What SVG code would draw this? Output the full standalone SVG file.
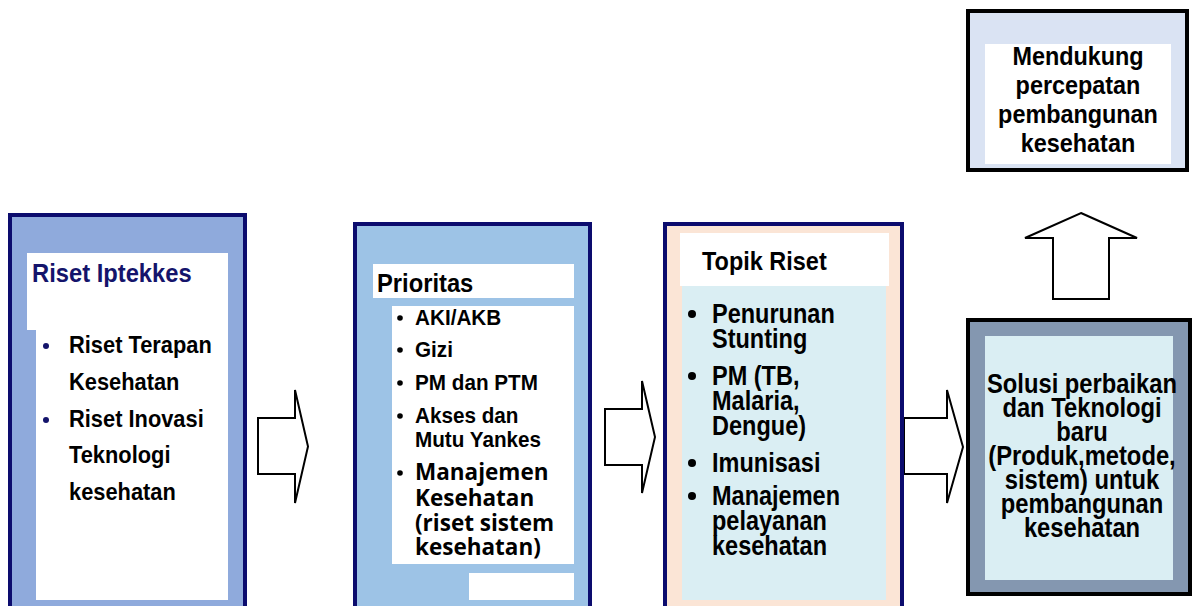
<svg xmlns="http://www.w3.org/2000/svg" width="1201" height="606" viewBox="0 0 1201 606">
<style>
.t{font-family:"Liberation Sans",Arial,sans-serif;font-weight:bold;fill:#000}
.c{font-family:"Open Sans","Liberation Sans",sans-serif;font-weight:bold;fill:#000}
.nav{stroke:#0c0c6e;stroke-width:4}
.blk{stroke:#000;stroke-width:4}
.arr{fill:#fff;stroke:#000;stroke-width:2;stroke-linejoin:miter}
</style>
<rect width="1201" height="606" fill="#fff"/>
<g id="connectors">
<polygon class="arr" points="258,418 295,418 295,390 308,446.5 295,503 295,474 258,474"/>
<polygon class="arr" points="605,409 642,409 642,381 655,437 642,493 642,465 605,465"/>
<polygon class="arr" points="904,418 947,418 947,390 963,447 947,503 947,474 904,474"/>
<polygon class="arr" points="1081,213 1137,238 1109,238 1109,299 1053,299 1053,238 1025,238"/>
</g>
<g id="riset-iptekkes">
<rect class="nav" x="10" y="215" width="235" height="400" fill="#8faadc"/>
<rect x="27" y="253" width="201" height="77" fill="#fff"/>
<rect x="36" y="330" width="192" height="270" fill="#fff"/>
<g transform="translate(32,0) scale(0.95,1)"><text class="t" x="0" y="282" font-size="25" style="fill:#14146b">Riset Iptekkes</text></g>
<circle cx="46" cy="346" r="3" fill="#14146b"/>
<circle cx="46" cy="420" r="3" fill="#14146b"/>
<g transform="translate(69,0) scale(0.95,1)" font-size="23">
<text class="t" x="0" y="353">Riset Terapan</text>
<text class="t" x="0" y="390">Kesehatan</text>
<text class="t" x="0" y="427">Riset Inovasi</text>
<text class="t" x="0" y="463">Teknologi</text>
<text class="t" x="0" y="500">kesehatan</text>
</g>
</g>
<g id="prioritas">
<rect class="nav" x="355" y="224" width="235" height="400" fill="#9dc3e6"/>
<rect x="373" y="264" width="201" height="34" fill="#fff"/>
<rect x="392" y="306" width="182" height="258" fill="#fff"/>
<rect x="469" y="573" width="105" height="27" fill="#fff"/>
<g transform="translate(377,0) scale(0.95,1)"><text class="t" x="0" y="292" font-size="25">Prioritas</text></g>
<g fill="#000">
<circle cx="400" cy="318" r="2.8"/>
<circle cx="400" cy="350" r="2.8"/>
<circle cx="400" cy="383" r="2.8"/>
<circle cx="400" cy="416" r="2.8"/>
<circle cx="400" cy="473" r="2.8"/>
</g>
<g transform="translate(415,0) scale(0.92,1)" font-size="22.5">
<text class="t" x="0" y="325">AKI/AKB</text>
<text class="t" x="0" y="357">Gizi</text>
<text class="t" x="0" y="390">PM dan PTM</text>
<text class="t" x="0" y="423">Akses dan</text>
<text class="t" x="0" y="447">Mutu Yankes</text>
</g>
<g font-size="22.5">
<text class="c" x="415" y="480">Manajemen</text>
<text class="c" x="415" y="506">Kesehatan</text>
<text class="c" x="415" y="531">(riset sistem</text>
<text class="c" x="415" y="555">kesehatan)</text>
</g>
</g>
<g id="topik-riset">
<rect class="nav" x="665" y="224" width="237" height="400" fill="#fbe5d6"/>
<rect x="680" y="233" width="209" height="53" fill="#fff"/>
<rect x="682" y="286" width="204" height="314" fill="#daeef3"/>
<g transform="translate(702,0) scale(0.92,1)"><text class="t" x="0" y="270" font-size="25.5">Topik Riset</text></g>
<g fill="#000">
<circle cx="692" cy="314" r="4"/>
<circle cx="692" cy="376" r="4"/>
<circle cx="692" cy="463" r="4"/>
<circle cx="692" cy="496" r="4"/>
</g>
<g transform="translate(712,0) scale(0.84,1)" font-size="28">
<text class="t" x="0" y="323">Penurunan</text>
<text class="t" x="0" y="348">Stunting</text>
<text class="t" x="0" y="385">PM (TB,</text>
<text class="t" x="0" y="410">Malaria,</text>
<text class="t" x="0" y="435">Dengue)</text>
<text class="t" x="0" y="472">Imunisasi</text>
<text class="t" x="0" y="505">Manajemen</text>
<text class="t" x="0" y="530">pelayanan</text>
<text class="t" x="0" y="555">kesehatan</text>
</g>
</g>
<g id="solusi">
<rect class="blk" x="968" y="320" width="222" height="274" fill="#8497b0"/>
<rect x="985" y="336" width="188" height="244" fill="#daeef3"/>
<g transform="translate(1082,0) scale(0.88,1)" font-size="27" text-anchor="middle">
<text class="t" x="0" y="393">Solusi perbaikan</text>
<text class="t" x="0" y="417">dan Teknologi</text>
<text class="t" x="0" y="441">baru</text>
<text class="t" x="0" y="465">(Produk,metode,</text>
<text class="t" x="0" y="489">sistem) untuk</text>
<text class="t" x="0" y="513">pembangunan</text>
<text class="t" x="0" y="537">kesehatan</text>
</g>
</g>
<g id="mendukung">
<rect class="blk" x="968" y="11" width="219" height="159" fill="#dae3f3"/>
<rect x="985" y="44" width="186" height="120" fill="#fff"/>
<g transform="translate(1078,0) scale(0.9,1)" font-size="26" text-anchor="middle">
<text class="t" x="0" y="65">Mendukung</text>
<text class="t" x="0" y="94">percepatan</text>
<text class="t" x="0" y="123">pembangunan</text>
<text class="t" x="0" y="152">kesehatan</text>
</g>
</g>
</svg>
